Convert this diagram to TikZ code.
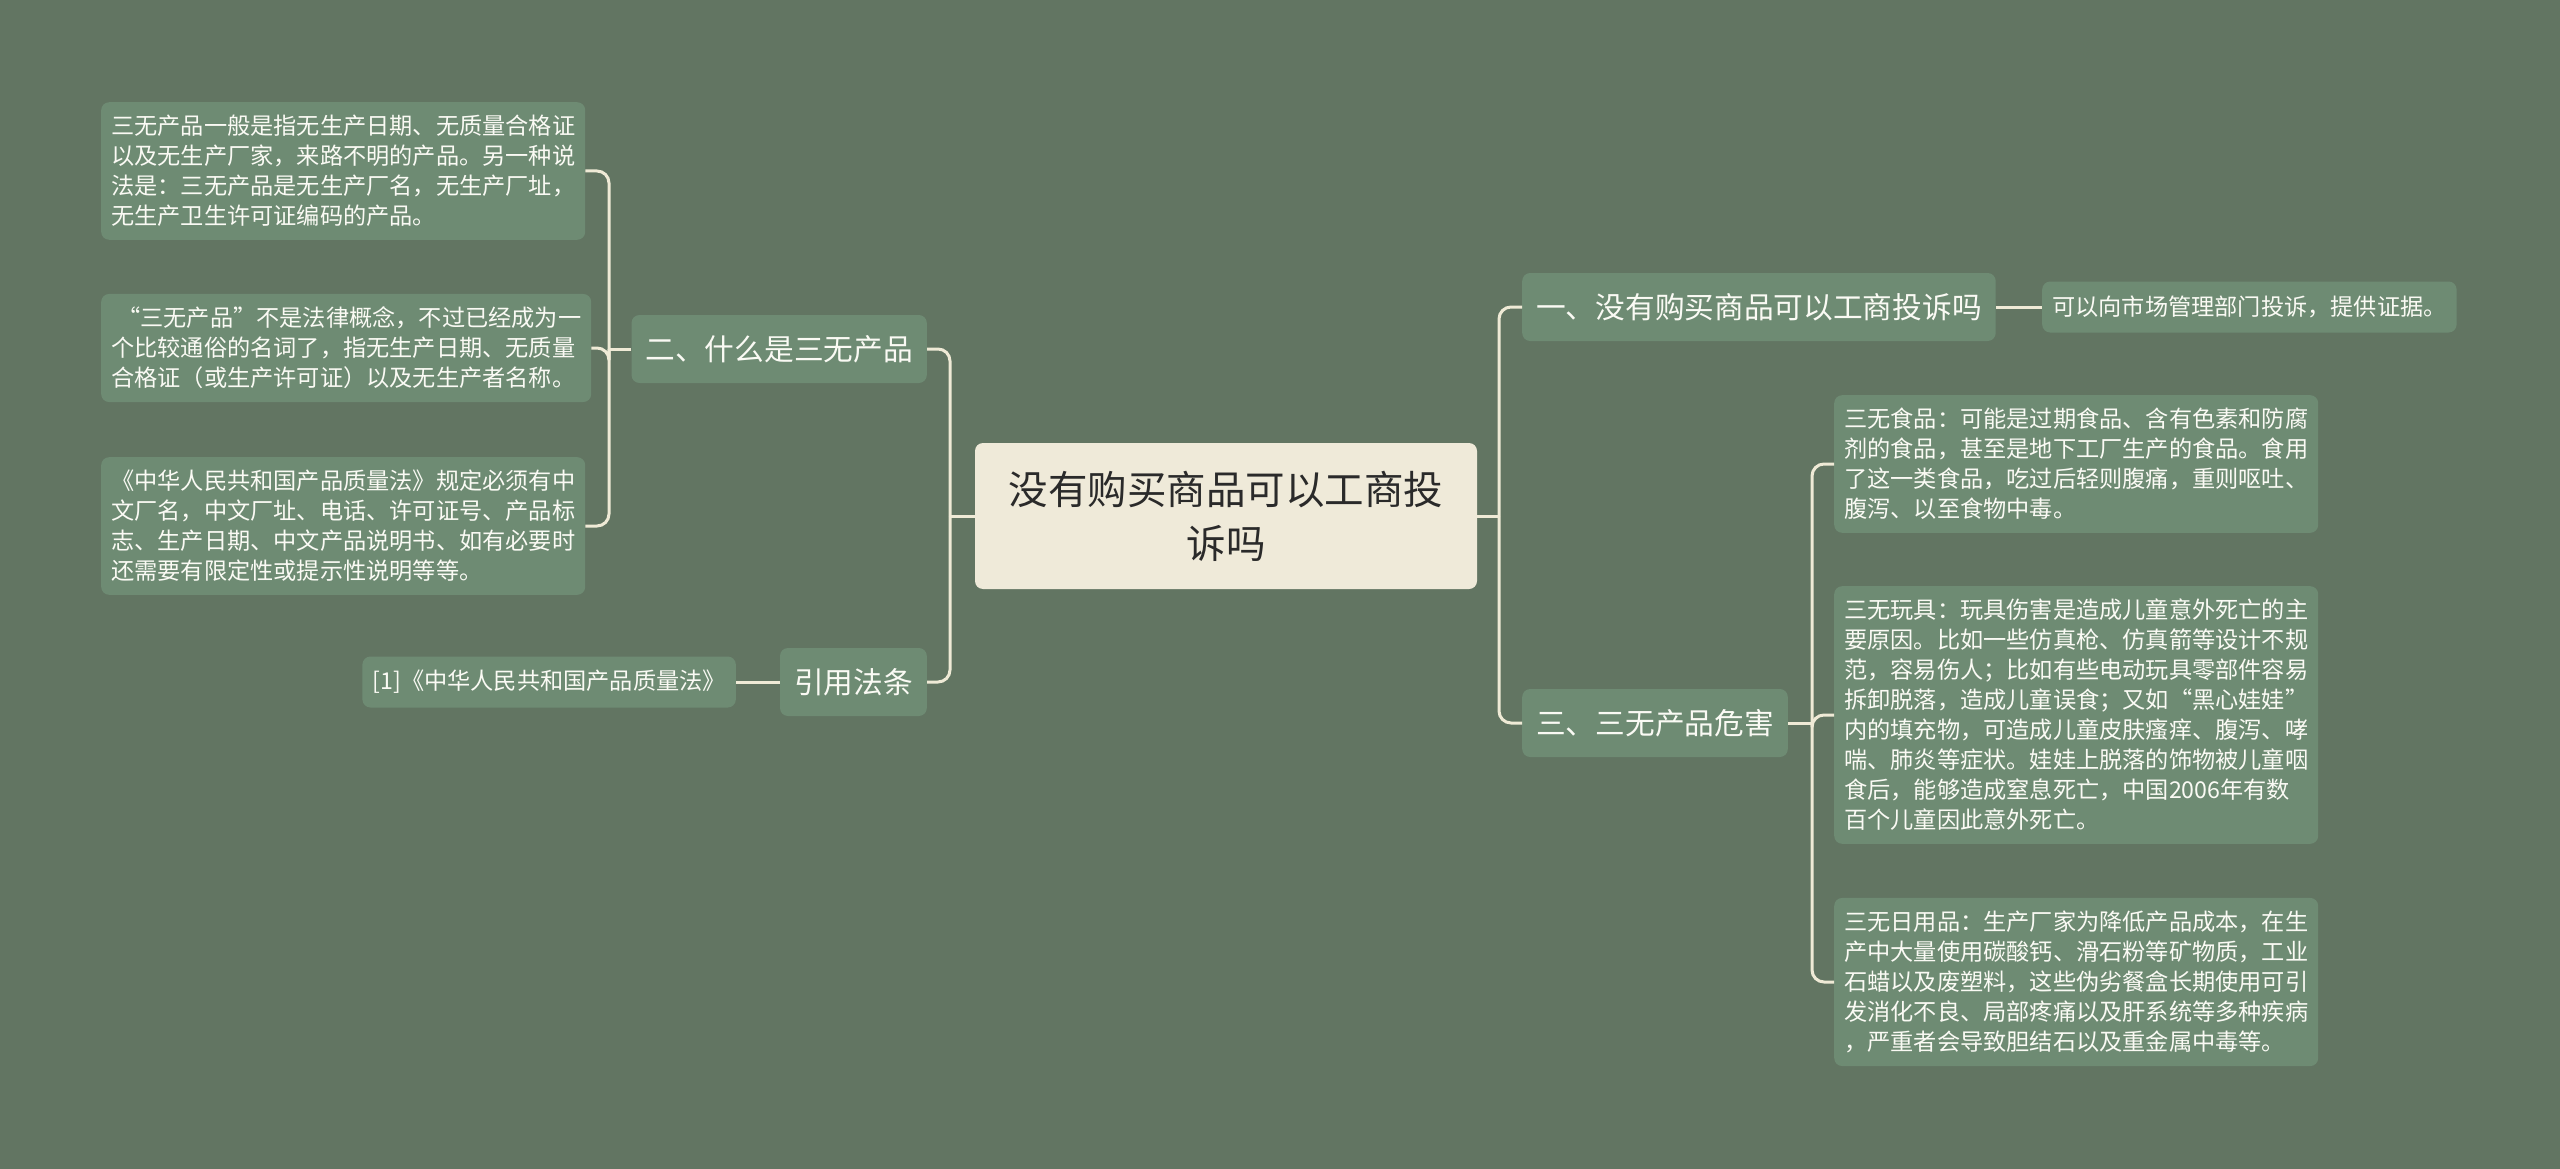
\documentclass[tikz,border=0pt]{standalone}
\usepackage{fontspec}
\setmainfont{Noto Sans CJK SC}
\definecolor{bgc}{HTML}{627562}
\definecolor{nodec}{HTML}{6E8B73}
\definecolor{rootc}{HTML}{EFEAD9}
\definecolor{linec}{HTML}{EFEAD6}
\definecolor{txtc}{HTML}{FAFAF4}
\definecolor{roottxt}{HTML}{2A2A2A}
\tikzset{
  basebox/.style={rounded corners=8pt, inner sep=0pt, align=left, text=txtc, fill=nodec},
  leafbox/.style={basebox, font=\fontsize{23.2}{30}\selectfont, inner xsep=10pt, inner ysep=13pt},
  onebox/.style={basebox, font=\fontsize{23.2}{30}\selectfont, inner xsep=10pt, minimum height=51pt},
  subbox/.style={basebox, font=\fontsize{29.7}{36}\selectfont, inner xsep=14pt, minimum height=68pt},
  rootbox/.style={rounded corners=8pt, fill=rootc, text=roottxt, inner sep=0pt,
    font=\fontsize{39.5}{54}\selectfont, align=center, minimum width=502pt, minimum height=146pt},
  link/.style={draw=linec, line width=3pt},
  curvelink/.style={link, rounded corners=12pt},
}
\begin{document}
\begin{tikzpicture}[x=1pt, y=-1pt]
\useasboundingbox (0,0) rectangle (2560,1169);
\fill[bgc] (0,0) rectangle (2560,1169);

% root
\node[rootbox] (root) at (1226,516) {没有购买商品可以工商投\\诉吗};

% left side
\node[subbox, anchor=east] (s2) at (927,349) {二、什么是三无产品};
\node[subbox, anchor=east] (s4) at (927,682) {引用法条};
\node[onebox, anchor=east] (r1) at (736,682) {[1]《中华人民共和国产品质量法》};

\node[leafbox, anchor=west] (l1) at (101,171) {三无产品一般是指无生产日期、无质量合格证\\以及无生产厂家，来路不明的产品。另一种说\\法是：三无产品是无生产厂名，无生产厂址，\\无生产卫生许可证编码的产品。};
\node[leafbox, anchor=west] (l2) at (101,348) {\hspace*{6pt}“三无产品”不是法律概念，不过已经成为一\\个比较通俗的名词了，指无生产日期、无质量\\合格证（或生产许可证）以及无生产者名称。};
\node[leafbox, anchor=west] (l3) at (101,526) {《中华人民共和国产品质量法》规定必须有中\\文厂名，中文厂址、电话、许可证号、产品标\\志、生产日期、中文产品说明书、如有必要时\\还需要有限定性或提示性说明等等。};

% right side
\node[subbox, anchor=west] (s1) at (1522,307) {一、没有购买商品可以工商投诉吗};
\node[onebox, anchor=west] (a1) at (2042,307) {可以向市场管理部门投诉，提供证据。};
\node[subbox, anchor=west] (s3) at (1522,723) {三、三无产品危害};

\node[leafbox, anchor=west] (h1) at (1834,464) {三无食品：可能是过期食品、含有色素和防腐\\剂的食品，甚至是地下工厂生产的食品。食用\\了这一类食品，吃过后轻则腹痛，重则呕吐、\\腹泻、以至食物中毒。};
\node[leafbox, anchor=west] (h2) at (1834,715) {三无玩具：玩具伤害是造成儿童意外死亡的主\\要原因。比如一些仿真枪、仿真箭等设计不规\\范，容易伤人；比如有些电动玩具零部件容易\\拆卸脱落，造成儿童误食；又如“黑心娃娃”\\内的填充物，可造成儿童皮肤瘙痒、腹泻、哮\\喘、肺炎等症状。娃娃上脱落的饰物被儿童咽\\食后，能够造成窒息死亡，中国2006年有数\\百个儿童因此意外死亡。};
\node[leafbox, anchor=west] (h3) at (1834,982) {三无日用品：生产厂家为降低产品成本，在生\\产中大量使用碳酸钙、滑石粉等矿物质，工业\\石蜡以及废塑料，这些伪劣餐盒长期使用可引\\发消化不良、局部疼痛以及肝系统等多种疾病\\，严重者会导致胆结石以及重金属中毒等。};

% junctions
\coordinate (jR) at (1499,516);
\coordinate (jL) at (950,516);
\coordinate (jL2) at (609,349);
\coordinate (jR2) at (1812,723);

% connectors
\draw[link] (root.east) -- (jR);
\draw[curvelink] (jR) |- (s1.west);
\draw[curvelink] (jR) |- (s3.west);
\draw[link] (s1.east) -- (a1.west);

\draw[link] (s3.east) -- (jR2);
\draw[curvelink] (jR2) |- (h1.west);
\draw[curvelink] (jR2) |- (h2.west);
\draw[curvelink] (jR2) |- (h3.west);

\draw[link] (root.west) -- (jL);
\draw[curvelink] (jL) |- (s2.east);
\draw[curvelink] (jL) |- (s4.east);
\draw[link] (s4.west) -- (r1.east);

\draw[link] (s2.west) -- (jL2);
\draw[curvelink] (jL2) |- (l1.east);
\draw[curvelink] (jL2) |- (l2.east);
\draw[curvelink] (jL2) |- (l3.east);
\end{tikzpicture}
\end{document}
